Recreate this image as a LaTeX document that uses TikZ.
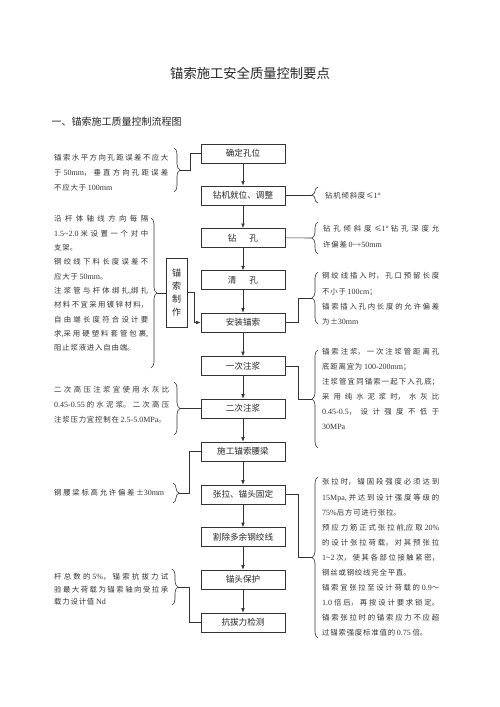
\documentclass[tikz,border=0pt]{standalone}
\usepackage{fontspec}
\setmainfont{Noto Sans CJK SC}
\newfontfamily\latinfont{Liberation Serif}[Scale=1.08]
\usetikzlibrary{decorations.pathreplacing,arrows.meta,calc}
\XeTeXlinebreaklocale "zh"
\XeTeXlinebreakskip=0pt\relax
\newcommand\tn[1]{{\latinfont #1}}
\newcommand\boxfont{\fontsize{8.6}{10}\selectfont\XeTeXlinebreakskip=0pt\relax}
\newcommand\notefont[1]{\fontsize{7.4}{#1}\selectfont\XeTeXlinebreakskip=0.8pt plus 4pt minus 0.6pt\relax}
\setlength\parindent{0pt}
\setlength\parskip{0pt}
\tolerance=10000
\hbadness=10000
\hfuzz=20pt
\tikzset{
  box/.style={draw=black!80, line width=0.6pt, minimum width=84pt, minimum height=19pt,
    inner sep=0pt, text=black!85, font={\boxfont}},
  note/.style={inner sep=0pt, anchor=north west, align=justify, text=black!80,
    font={\notefont{#1}}},
  oneline/.style={inner sep=0pt, anchor=west, text=black!80, font={\notefont{10}}},
  brc/.style={draw=black!80, line width=0.6pt, decorate, decoration={brace, amplitude=6pt}},
  conn/.style={draw=black!80, line width=0.6pt},
  arr/.style={conn, -{Latex[length=4.5pt,width=3.6pt]}},
}
\begin{document}
\begin{tikzpicture}[x=1pt,y=-1pt]
\fill[white] (0,0) rectangle (500,707);
\useasboundingbox (0,0) rectangle (500,707);

% title and heading
\node[text=black!85, font={\fontsize{13.3}{16}\selectfont}] (title) at (250,73) {锚索施工安全质量控制要点};
\node[anchor=west, text=black!85, font={\fontsize{10}{12}\selectfont}] (head) at (48,122) {一、锚索施工质量控制流程图};

% main boxes
\node[box] (b1) at (243,153.3) {确定孔位};
\node[box] (b2) at (243,195.3) {钻机就位、调整};
\node[box] (b3) at (243,237.8) {钻\hspace{13pt}孔};
\node[box] (b4) at (243,280.2) {清\hspace{13pt}孔};
\node[box] (b5) at (243,322.5) {安装锚索};
\node[box] (b6) at (243,366) {一次注浆};
\node[box] (b7) at (243,408.5) {二次注浆};
\node[box] (b8) at (243,451.5) {施工锚索腰梁};
\node[box] (b9) at (243,494.5) {张拉、锚头固定};
\node[box] (b10) at (243,537) {割除多余钢绞线};
\node[box] (b11) at (243,579.5) {锚头保护};
\node[box] (b12) at (243,622.5) {抗拔力检测};

\node[draw=black!80, line width=0.6pt, minimum width=21pt, minimum height=69pt, inner sep=0pt,
  align=center, text=black!85, font={\fontsize{9}{13}\selectfont}] (mz) at (176.5,292.5) {锚\\索\\制\\作};

\foreach \a/\b in {b1/b2,b2/b3,b3/b4,b4/b5,b5/b6,b6/b7,b7/b8,b8/b9,b9/b10,b10/b11,b11/b12}
  \draw[arr] (\a.south) -- (\b.north);

% notes
\node[note=15, text width=114pt] (t1) at (54,154.5) {锚索水平方向孔距误差不应大\linebreak
于 \tn{50mm}，垂直方向孔距误差\linebreak
不应大于 \tn{100mm}};

\node[note=10, anchor=west, text width=90pt, align=left] (t2) at (325,196) {钻机倾斜度≤\tn{1°}};

\node[note=15.7, text width=116pt] (t3) at (323,225.5) {钻孔倾斜度≤\tn{1°} 钻孔深度允\linebreak
许偏差 \tn{0\textasciitilde+50mm}};

\node[note=14.33, text width=94pt] (t4) at (54,215.5) {沿杆体轴线方向每隔\linebreak
\tn{1.5\textasciitilde 2.0} 米设置一个对中\linebreak
支架。\par
钢绞线下料长度误差不\linebreak
应大于 \tn{50mm}。\par
注浆管与杆体绑扎\tn{,}绑扎\linebreak
材料不宜采用镀锌材料，\linebreak
自由端长度符合设计要\linebreak
求\tn{,}采用硬塑料套管包裹\tn{,}\linebreak
阻止浆液进入自由端。};

\node[note=15.3, text width=117pt] (t5) at (322,272.5) {钢绞线插入时，孔口预留长度\linebreak
不小于 \tn{100cm}；\par
锚索插入孔内长度的允许偏差\linebreak
为±\tn{30mm}};

\node[note=15, text width=117pt] (t6) at (322,348.5) {锚索注浆，一次注浆管距离孔\linebreak
底距离宜为 \tn{100-200mm}；\par
注浆管宜同锚索一起下入孔底；\linebreak
采用纯水泥浆时，水灰比\linebreak
\tn{0.45-0.5}，设计强度不低于\linebreak
\tn{30MPa}};

\node[note=15, text width=115pt] (t7) at (54,386.5) {二次高压注浆宜使用水灰比\linebreak
\tn{0.45-0.55} 的水泥浆。二次高压\linebreak
注浆压力宜控制在 \tn{2.5-5.0MPa}。};

\node[oneline, text width=110pt, align=justify] (t8) at (54,493) {钢腰梁标高允许偏差±\tn{30mm}{\parfillskip=0pt\par}};

\node[note=15.1, text width=117pt] (t9) at (322,478.5) {张拉时，锚固段强度必须达到\linebreak
\tn{15Mpa,} 并达到设计强度等级的\linebreak
\tn{75\%}后方可进行张拉。\par
预应力筋正式张拉前\tn{,}应取 \tn{20\%}\linebreak
的设计张拉荷载，对其预张拉\linebreak
\tn{1\textasciitilde 2} 次，使其各部位接触紧密，\linebreak
钢丝或钢绞线完全平直。\par
锚索宜张拉至设计荷载的 \tn{0.9}～\linebreak
\tn{1.0} 倍后，再按设计要求锁定。\linebreak
锚索张拉时的锚索应力不应超\linebreak
过锚索强度标准值的 \tn{0.75} 倍。};

\node[note=12.5, text width=114pt] (t12) at (54,573.5) {杆总数的 \tn{5\%}，锚索抗拔力试\linebreak
验最大荷载为锚索轴向受拉承\linebreak
载力设计值 \tn{Nd}};

% braces
\draw[brc] (174,148) -- (174,192);
\draw[brc] (318,203) -- (318,187);
\draw[brc] (318,254) -- (318,222);
\draw[brc] (151,218) -- (151,368);
\draw[brc] (318,324) -- (318,272);
\draw[brc] (318,448) -- (318,350);
\draw[brc] (174,382) -- (174,435);
\draw[brc] (173,483) -- (173,503);
\draw[brc] (318,638) -- (318,477);
\draw[brc] (172,569) -- (172,605);

\coordinate (c1) at (180,170);
\coordinate (c2) at (312,195.3);
\coordinate (c3) at (312,238);
\coordinate (c4) at (157,293);
\coordinate (c5) at (312,298);
\coordinate (c6) at (312,399);
\coordinate (c7) at (180,408.5);
\coordinate (c8) at (179,493);
\coordinate (c9) at (312,557.5);
\coordinate (c12) at (178,587);

% connectors
\draw[conn] (c1) -- ++(10,0) |- (b1.west);
\draw[conn] (b2.east) -- (c2);
\draw[conn] (b3.east) -- (c3);
\draw[conn] (c4) -- (c4 -| mz.west);
\draw[arr] (mz.east) -- ++(6.5,0) |- (b5.west);
\draw[conn] (b5.east) -- ++(13,0) |- (c5);
\draw[conn] (b6.east) -- ++(13,0) |- (c6);
\draw[conn] (b7.west) -- (c7);
\draw[conn] (b8.west) -- ++(-11,0) |- (c8);
\draw[conn] (b9.east) -- ++(13,0) |- (c9);
\draw[conn] (b12.west) -- ++(-11,0) |- (c12);
\end{tikzpicture}
\end{document}
